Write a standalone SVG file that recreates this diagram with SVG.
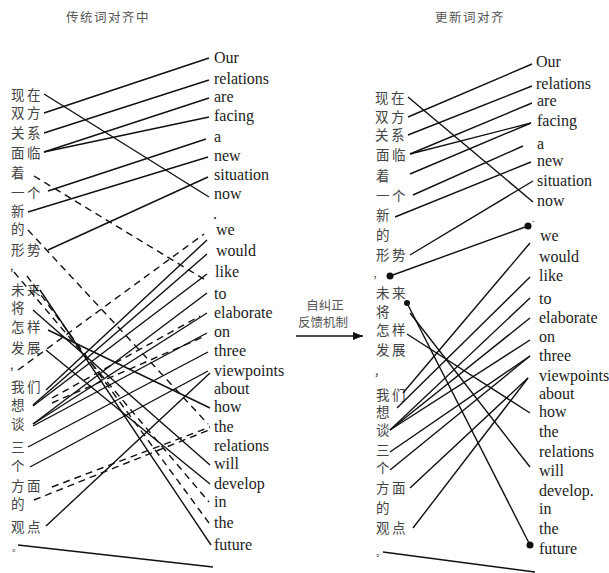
<svg xmlns="http://www.w3.org/2000/svg" width="609" height="573" viewBox="0 0 609 573">
<defs>
<style>
.zh{font-family:"Noto Sans CJK SC","Noto Sans CJK JP",sans-serif;font-size:13.5px;fill:#444;letter-spacing:2.5px}
.en{font-family:"Liberation Serif",serif;font-size:16px;fill:#222}
.ti{font-family:"Noto Sans CJK SC",sans-serif;font-size:12.5px;fill:#555;letter-spacing:1.5px}
.mk{font-family:"Noto Sans CJK SC",sans-serif;font-size:11px;fill:#333}
.s{stroke:#111;stroke-width:1.4;fill:none}
.d{stroke:#111;stroke-width:1.4;fill:none;stroke-dasharray:7 5}
.dot{fill:#111}
</style>
<marker id="ah" viewBox="0 0 10 8" refX="10" refY="4" markerWidth="10" markerHeight="8" markerUnits="userSpaceOnUse" orient="auto"><path d="M0,0 L10,4 L0,8 Z" fill="#111"/></marker>
</defs>
<rect width="609" height="573" fill="#fff"/>

<g id="titles">
<text class="ti" x="108" y="22" text-anchor="middle">传统词对齐中</text>
<text class="ti" x="470" y="22" text-anchor="middle">更新词对齐</text>
</g>

<g id="feedback">
<text class="ti" x="325" y="310" text-anchor="middle" style="letter-spacing:0">自纠正</text>
<text class="ti" x="323" y="327" text-anchor="middle" style="letter-spacing:0">反馈机制</text>
<line x1="296" y1="336" x2="363" y2="336" class="s" marker-end="url(#ah)"/>
</g>

<!-- left Chinese -->
<g id="L-zh">
<g id="lz1"><text class="zh" x="11" y="100">现在</text></g>
<g id="lz2"><text class="zh" x="11" y="118">双方</text></g>
<g id="lz3"><text class="zh" x="11" y="138">关系</text></g>
<g id="lz4"><text class="zh" x="11" y="158">面临</text></g>
<g id="lz5"><text class="zh" x="11" y="178">着</text></g>
<g id="lz6"><text class="zh" x="11" y="198">一个</text></g>
<g id="lz7"><text class="zh" x="11" y="216">新</text></g>
<g id="lz8"><text class="zh" x="11" y="234">的</text></g>
<g id="lz9"><text class="zh" x="11" y="255">形势</text></g>
<g id="lz10"><text class="mk" x="9" y="271">，</text></g>
<g id="lz11"><text class="zh" x="11" y="295">未来</text></g>
<g id="lz12"><text class="zh" x="11" y="313">将</text></g>
<g id="lz13"><text class="zh" x="11" y="332">怎样</text></g>
<g id="lz14"><text class="zh" x="11" y="353">发展</text></g>
<g id="lz15"><text class="mk" x="9" y="370">，</text></g>
<g id="lz16"><text class="zh" x="11" y="392">我们</text></g>
<g id="lz17"><text class="zh" x="11" y="410">想</text></g>
<g id="lz18"><text class="zh" x="11" y="429">谈</text></g>
<g id="lz19"><text class="zh" x="11" y="452">三</text></g>
<g id="lz20"><text class="zh" x="11" y="471">个</text></g>
<g id="lz21"><text class="zh" x="11" y="491">方面</text></g>
<g id="lz22"><text class="zh" x="11" y="509">的</text></g>
<g id="lz23"><text class="zh" x="11" y="532">观点</text></g>
<g id="lz24"><text class="mk" x="12" y="551" style="font-size:9px">。</text></g>
</g>

<!-- left English -->
<g id="L-en">
<g id="le1"><text class="en" x="214" y="62.5">Our</text></g>
<g id="le2"><text class="en" x="214" y="84">relations</text></g>
<g id="le3"><text class="en" x="214" y="102">are</text></g>
<g id="le4"><text class="en" x="214" y="121">facing</text></g>
<g id="le5"><text class="en" x="214" y="142">a</text></g>
<g id="le6"><text class="en" x="214" y="161">new</text></g>
<g id="le7"><text class="en" x="214" y="180">situation</text></g>
<g id="le8"><text class="en" x="214" y="199">now</text></g>
<g id="le9"><text class="en" x="213" y="219">.</text></g>
<g id="le10"><text class="en" x="216" y="235">we</text></g>
<g id="le11"><text class="en" x="216" y="256">would</text></g>
<g id="le12"><text class="en" x="215" y="277">like</text></g>
<g id="le13"><text class="en" x="214" y="299">to</text></g>
<g id="le14"><text class="en" x="214" y="318">elaborate</text></g>
<g id="le15"><text class="en" x="214" y="337">on</text></g>
<g id="le16"><text class="en" x="214" y="356">three</text></g>
<g id="le17"><text class="en" x="214" y="376">viewpoints</text></g>
<g id="le18"><text class="en" x="214" y="394">about</text></g>
<g id="le19"><text class="en" x="214" y="412">how</text></g>
<g id="le20"><text class="en" x="214" y="432">the</text></g>
<g id="le21"><text class="en" x="214" y="451">relations</text></g>
<g id="le22"><text class="en" x="214" y="469">will</text></g>
<g id="le23"><text class="en" x="214" y="489">develop</text></g>
<g id="le24"><text class="en" x="214" y="507">in</text></g>
<g id="le25"><text class="en" x="214" y="528">the</text></g>
<g id="le26"><text class="en" x="214" y="550">future</text></g>
</g>

<!-- right Chinese -->
<g id="R-zh">
<g id="rz1"><text class="zh" x="375" y="103">现在</text></g>
<g id="rz2"><text class="zh" x="375" y="122">双方</text></g>
<g id="rz3"><text class="zh" x="375" y="140">关系</text></g>
<g id="rz4"><text class="zh" x="376" y="160">面临</text></g>
<g id="rz5"><text class="zh" x="376" y="181">着</text></g>
<g id="rz6"><text class="zh" x="376" y="201">一个</text></g>
<g id="rz7"><text class="zh" x="376" y="220">新</text></g>
<g id="rz8"><text class="zh" x="376" y="240">的</text></g>
<g id="rz9"><text class="zh" x="376" y="260">形势</text></g>
<g id="rz10"><text class="mk" x="373" y="278" style="font-size:9px">，</text></g>
<g id="rz11"><text class="zh" x="376" y="298">未来</text></g>
<g id="rz12"><text class="zh" x="376" y="317">将</text></g>
<g id="rz13"><text class="zh" x="376" y="335">怎样</text></g>
<g id="rz14"><text class="zh" x="376" y="355">发展</text></g>
<g id="rz15"><text class="mk" x="374" y="376">，</text></g>
<g id="rz16"><text class="zh" x="376" y="400">我们</text></g>
<g id="rz17"><text class="zh" x="376" y="417">想</text></g>
<g id="rz18"><text class="zh" x="376" y="435">谈</text></g>
<g id="rz19"><text class="zh" x="376" y="455">三</text></g>
<g id="rz20"><text class="zh" x="376" y="473">个</text></g>
<g id="rz21"><text class="zh" x="376" y="493">方面</text></g>
<g id="rz22"><text class="zh" x="376" y="513">的</text></g>
<g id="rz23"><text class="zh" x="376" y="533">观点</text></g>
<g id="rz24"><text class="mk" x="376" y="556" style="font-size:9px">。</text></g>
</g>

<!-- right English -->
<g id="R-en">
<g id="re1"><text class="en" x="536" y="67">Our</text></g>
<g id="re2"><text class="en" x="536" y="89">relations</text></g>
<g id="re3"><text class="en" x="537" y="106">are</text></g>
<g id="re4"><text class="en" x="537" y="126">facing</text></g>
<g id="re5"><text class="en" x="537" y="149">a</text></g>
<g id="re6"><text class="en" x="537" y="166">new</text></g>
<g id="re7"><text class="en" x="537" y="186">situation</text></g>
<g id="re8"><text class="en" x="537" y="206">now</text></g>
<g id="re9"><text class="en" x="532" y="222" style="font-size:10px">.</text></g>
<g id="re10"><text class="en" x="540" y="241">we</text></g>
<g id="re11"><text class="en" x="539" y="262">would</text></g>
<g id="re12"><text class="en" x="539" y="281">like</text></g>
<g id="re13"><text class="en" x="539" y="304">to</text></g>
<g id="re14"><text class="en" x="539" y="323">elaborate</text></g>
<g id="re15"><text class="en" x="539" y="342">on</text></g>
<g id="re16"><text class="en" x="539" y="361">three</text></g>
<g id="re17"><text class="en" x="539" y="381">viewpoints</text></g>
<g id="re18"><text class="en" x="539" y="399">about</text></g>
<g id="re19"><text class="en" x="539" y="417">how</text></g>
<g id="re20"><text class="en" x="539" y="437">the</text></g>
<g id="re21"><text class="en" x="539" y="457">relations</text></g>
<g id="re22"><text class="en" x="539" y="476">will</text></g>
<g id="re23"><text class="en" x="539" y="496">develop.</text></g>
<g id="re24"><text class="en" x="539" y="514">in</text></g>
<g id="re25"><text class="en" x="539" y="534">the</text></g>
<g id="re26"><text class="en" x="539" y="554">future</text></g>
</g>

<!-- connectors -->
<g id="connectors">
<g id="left-links">
<line class="s" x1="44" y1="94" x2="209" y2="197"/>
<line class="s" x1="44" y1="113" x2="209" y2="58"/>
<line class="s" x1="44" y1="133" x2="209" y2="80"/>
<line class="s" x1="44" y1="152" x2="209" y2="98"/>
<line class="s" x1="44" y1="152" x2="209" y2="117"/>
<line class="s" x1="48" y1="191" x2="206" y2="139"/>
<line class="s" x1="28" y1="212" x2="208" y2="157"/>
<line class="s" x1="48" y1="250" x2="208" y2="177"/>
<line class="d" x1="34" y1="176" x2="207" y2="281"/>
<line class="d" x1="28" y1="230" x2="208" y2="424"/>
<line class="s" x1="46" y1="390" x2="207" y2="240"/>
<line class="s" x1="33" y1="405" x2="207" y2="254"/>
<line class="s" x1="33" y1="406" x2="207" y2="274"/>
<line class="s" x1="33" y1="424" x2="207" y2="293"/>
<line class="s" x1="33" y1="424" x2="207" y2="313"/>
<line class="s" x1="33" y1="426" x2="207" y2="333"/>
<line class="s" x1="28" y1="447" x2="208" y2="352"/>
<line class="s" x1="30" y1="467" x2="208" y2="371"/>
<line class="s" x1="46" y1="526" x2="210" y2="373"/>
<line class="d" x1="18" y1="370" x2="204" y2="234"/>
<line class="d" x1="52" y1="398" x2="200" y2="316"/>
<line class="d" x1="52" y1="403" x2="203" y2="337"/>
<line class="d" x1="52" y1="487" x2="210" y2="427"/>
<line class="d" x1="34" y1="500" x2="209" y2="430"/>
<line class="s" x1="40" y1="290" x2="211" y2="545"/>
<line class="s" x1="33" y1="310" x2="210" y2="465"/>
<line class="s" x1="48" y1="330" x2="210" y2="408"/>
<line class="s" x1="46" y1="350" x2="210" y2="484"/>
<line class="d" x1="14" y1="272" x2="209" y2="502"/>
<line class="d" x1="27" y1="276" x2="209" y2="523"/>
<line class="s" x1="18" y1="545" x2="213" y2="567"/>
</g>
<g id="right-links">
<line class="s" x1="408" y1="97" x2="533" y2="202"/>
<line class="s" x1="408" y1="117" x2="532" y2="64"/>
<line class="s" x1="408" y1="135" x2="532" y2="86"/>
<line class="s" x1="410" y1="154" x2="532" y2="103"/>
<line class="s" x1="410" y1="154" x2="531" y2="123"/>
<line class="s" x1="410" y1="174" x2="531" y2="123"/>
<line class="s" x1="413" y1="195" x2="523" y2="146"/>
<line class="s" x1="395" y1="217" x2="531" y2="162"/>
<line class="s" x1="410" y1="255" x2="533" y2="181"/>
<line class="s" x1="390" y1="276" x2="528" y2="226"/>
<line class="s" x1="407" y1="303" x2="530" y2="545"/>
<line class="s" x1="410" y1="313" x2="530" y2="467"/>
<line class="s" x1="407" y1="334" x2="530" y2="413"/>
<line class="s" x1="403" y1="393" x2="530" y2="243"/>
<line class="s" x1="397" y1="408" x2="530" y2="277"/>
<line class="s" x1="390" y1="430" x2="530" y2="298"/>
<line class="s" x1="390" y1="430" x2="530" y2="318"/>
<line class="s" x1="390" y1="430" x2="530" y2="340"/>
<line class="s" x1="390" y1="452" x2="530" y2="356"/>
<line class="s" x1="390" y1="470" x2="530" y2="356"/>
<line class="s" x1="410" y1="488" x2="528" y2="378"/>
<line class="s" x1="413" y1="528" x2="528" y2="378"/>
<line class="s" x1="383" y1="552" x2="535" y2="572"/>
<circle class="dot" cx="390" cy="276" r="3.5"/>
<circle class="dot" cx="528" cy="226" r="3.5"/>
<circle class="dot" cx="407" cy="303" r="3"/>
<circle class="dot" cx="530" cy="545" r="3.5"/>
</g>
</g>
</svg>
